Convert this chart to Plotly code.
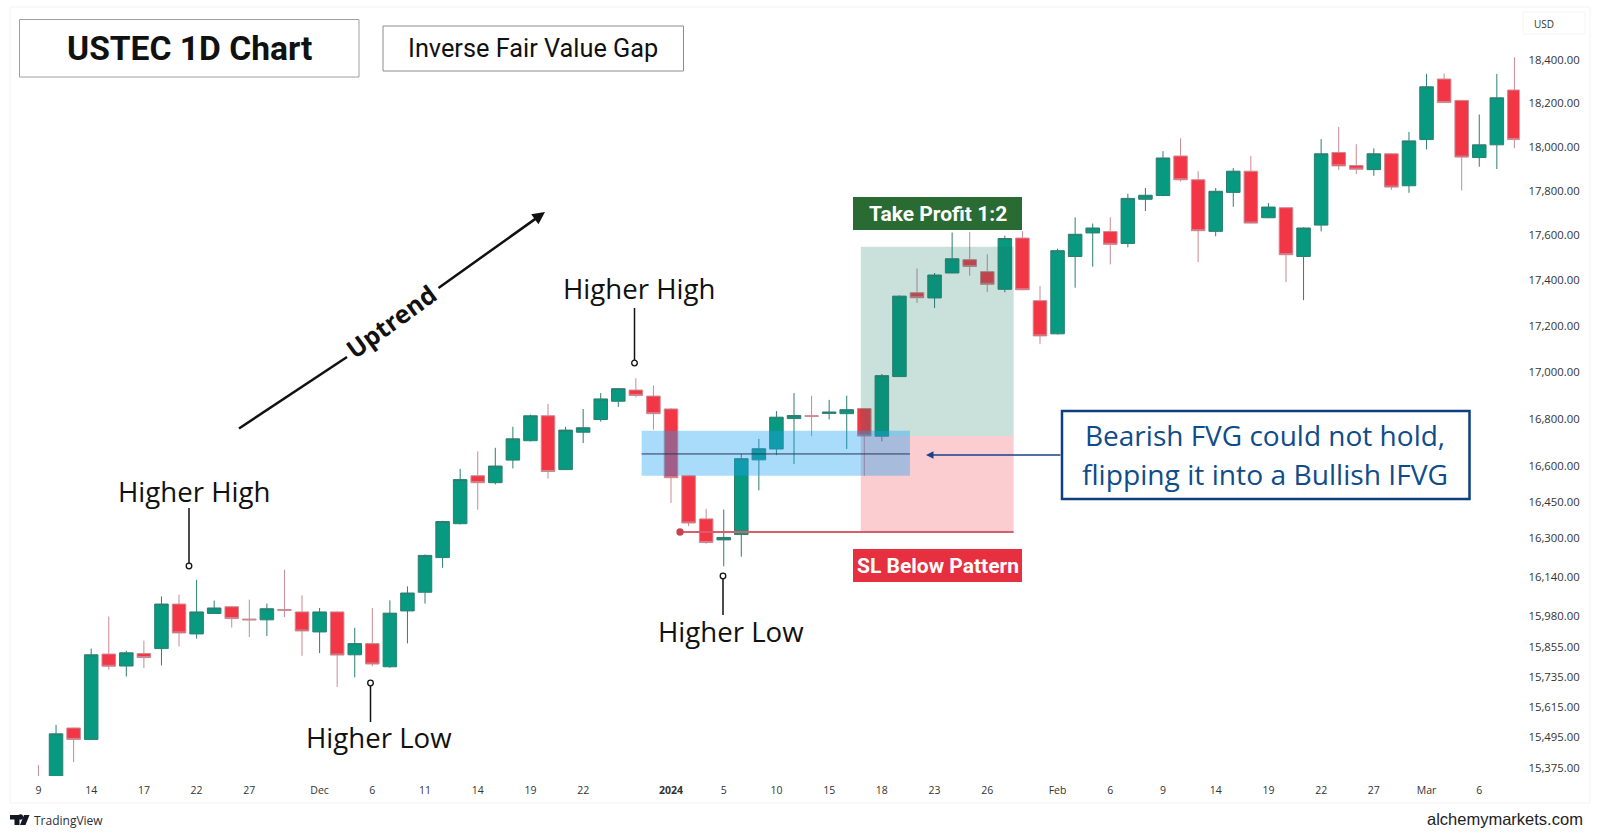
import math
import pandas as pd
import plotly.graph_objects as go

W = 1600
H = 839

# trading days, no session on the 25th of December and the 1st of January
dates = pd.bdate_range("2023-11-09", "2024-03-08")
dates = [d.strftime("%Y-%m-%d") for d in dates if d.strftime("%m-%d") not in ("12-25", "01-01")]

open_prices = [15320, 15290, 15532, 15487, 15826, 15778, 15828, 15848, 16028, 15907,
               15990, 16017, 15967, 15964, 16006, 15996, 15915, 15996, 15823, 15868,
               15775, 16000, 16076, 16218, 16358, 16558, 16529, 16624, 16706, 16812,
               16584, 16742, 16796, 16874, 16922, 16896, 16841, 16558, 16378, 16291,
               16313, 16625, 16671, 16800, 16812, 16822, 16821, 16843, 16725, 16980,
               17345, 17322, 17432, 17491, 17438, 17360, 17587, 17310, 17165, 17505,
               17610, 17616, 17563, 17761, 17778, 17957, 17849, 17617, 17792, 17888,
               17678, 17723, 17505, 17645, 17973, 17914, 17895, 17967, 17822, 18032,
               18311, 18212, 17950, 18008, 18260]
close_prices = [15300, 15509, 15487, 15823, 15777, 15831, 15812, 16028, 15911, 15996,
                16012, 15969, 15964, 16009, 16003, 15919, 15996, 15822, 15868, 15786,
                15991, 16073, 16227, 16367, 16542, 16529, 16599, 16714, 16812, 16576,
                16751, 16761, 16884, 16928, 16899, 16821, 16550, 16361, 16280, 16301,
                16630, 16672, 16806, 16813, 16810, 16828, 16838, 16726, 16984, 17330,
                17323, 17423, 17495, 17461, 17382, 17585, 17358, 17156, 17531, 17604,
                17632, 17559, 17765, 17779, 17948, 17849, 17620, 17797, 17888, 17654,
                17726, 17513, 17632, 17967, 17912, 17897, 17967, 17816, 18026, 18275,
                18202, 17952, 18008, 18224, 18032]
high_prices = [15387, 15544, 15534, 15848, 15977, 15839, 15880, 16059, 16066, 16127,
               16042, 16020, 16046, 16030, 16168, 16063, 16012, 15998, 15932, 16012,
               16043, 16100, 16231, 16370, 16587, 16661, 16676, 16765, 16817, 16863,
               16765, 16841, 16909, 16931, 16973, 16942, 16845, 16560, 16420, 16417,
               16650, 16714, 16832, 16909, 16898, 16880, 16898, 16845, 16991, 17333,
               17452, 17432, 17612, 17615, 17515, 17598, 17618, 17375, 17540, 17680,
               17652, 17680, 17786, 17812, 17979, 18038, 17888, 17812, 17902, 17958,
               17744, 17725, 17635, 18034, 18090, 18011, 17992, 17969, 18067, 18335,
               18337, 18214, 18147, 18335, 18412]
low_prices = [15290, 15280, 15398, 15485, 15763, 15736, 15770, 15780, 15856, 15888,
              15988, 15933, 15894, 15899, 15975, 15819, 15830, 15695, 15733, 15777,
              15771, 15869, 16030, 16176, 16355, 16416, 16522, 16589, 16703, 16546,
              16583, 16696, 16787, 16850, 16891, 16753, 16445, 16348, 16275, 16182,
              16222, 16497, 16645, 16608, 16725, 16796, 16671, 16558, 16703, 16978,
              17300, 17278, 17431, 17420, 17348, 17347, 17356, 17120, 17162, 17367,
              17460, 17470, 17546, 17708, 17775, 17841, 17480, 17595, 17727, 17652,
              17676, 17392, 17312, 17617, 17893, 17875, 17867, 17804, 17790, 17987,
              18200, 17801, 17908, 17898, 17992]

price_ticks = [18400, 18200, 18000, 17800, 17600, 17400, 17200, 17000, 16800, 16600,
               16450, 16300, 16140, 15980, 15855, 15735, 15615, 15495, 15375]
date_ticks = ["2023-11-09", "2023-11-14", "2023-11-17", "2023-11-22", "2023-11-27", "2023-12-01",
              "2023-12-06", "2023-12-11", "2023-12-14", "2023-12-19", "2023-12-22", "2024-01-02",
              "2024-01-05", "2024-01-10", "2024-01-15", "2024-01-18", "2024-01-23", "2024-01-26",
              "2024-02-01", "2024-02-06", "2024-02-09", "2024-02-14", "2024-02-19", "2024-02-22",
              "2024-02-27", "2024-03-01", "2024-03-06"]
date_labels = ["9", "14", "17", "22", "27", "Dec", "6", "11", "14", "19", "22", "<b>2024</b>",
               "5", "10", "15", "18", "23", "26", "Feb", "6", "9", "14", "19", "22", "27", "Mar", "6"]

# trade zones, prices
fvg_top = 16748
fvg_bottom = 16558
fvg_mid = 16650
tp_price = 17548
entry_price = 16726
sl_price = 16324


def px(x):
    return x / W


def py(y):
    return 1 - y / H


def box(x0, y0, x1, y1, fill="rgba(0,0,0,0)", line="rgba(0,0,0,0)", width=1):
    return dict(type="rect", xref="paper", yref="paper", x0=px(x0), x1=px(x1), y0=py(y0), y1=py(y1),
                fillcolor=fill, line=dict(color=line, width=width), layer="above")


def seg(x0, y0, x1, y1, color="#111111", width=1.5):
    return dict(type="line", xref="paper", yref="paper", x0=px(x0), x1=px(x1), y0=py(y0), y1=py(y1),
                line=dict(color=color, width=width), layer="above")


def dot(x, y, r=2.8, fill="#ffffff", line="#111111"):
    return dict(type="circle", xref="paper", yref="paper", x0=px(x - r), x1=px(x + r), y0=py(y - r), y1=py(y + r),
                fillcolor=fill, line=dict(color=line, width=1.3), layer="above")


def poly(points, color):
    path = "M " + " L ".join(f"{px(x)},{py(y)}" for x, y in points) + " Z"
    return dict(type="path", xref="paper", yref="paper", path=path, fillcolor=color, line=dict(width=0), layer="above")


def label(x, y, text, size, color="#111111", family="Open Sans", angle=0, anchor="center"):
    return dict(xref="paper", yref="paper", x=px(x), y=py(y), text=text, showarrow=False, xanchor=anchor,
                yanchor="middle", textangle=angle, font=dict(size=size, color=color, family=family))


def arrow(x0, y0, x1, y1, color, width, size=1.0):
    return dict(xref="paper", yref="paper", x=px(x1), y=py(y1), axref="pixel", ayref="pixel",
                ax=x0 - x1, ay=y0 - y1, text="", showarrow=True, arrowhead=2, arrowsize=size,
                arrowwidth=width, arrowcolor=color)


fig = go.Figure()
fig.add_trace(go.Candlestick(
    x=dates, open=open_prices, high=high_prices, low=low_prices, close=close_prices,
    increasing=dict(fillcolor="#089981", line=dict(color="#2b7f70", width=1)),
    decreasing=dict(fillcolor="#f23645", line=dict(color="#c98a92", width=1)),
    showlegend=False,
))

shapes = [
    box(10, 7, 1590, 803, line="#f3f3f3"),
    box(1523, 12, 1585, 34, line="#f4f4f4"),
    # zones sit on the price axis, the index on the x axis is the candle number
    dict(type="rect", xref="x", yref="y", x0=46.8, x1=55.5, y0=entry_price, y1=tp_price,
         fillcolor="rgba(20,120,100,0.23)", line=dict(width=0), layer="above"),
    dict(type="rect", xref="x", yref="y", x0=46.8, x1=55.5, y0=sl_price, y1=entry_price,
         fillcolor="rgba(242,54,69,0.25)", line=dict(width=0), layer="above"),
    dict(type="rect", xref="x", yref="y", x0=34.33, x1=49.6, y0=fvg_bottom, y1=fvg_top,
         fillcolor="rgba(30,160,243,0.38)", line=dict(width=0), layer="above"),
    dict(type="line", xref="x", yref="y", x0=34.33, x1=49.6, y0=fvg_mid, y1=fvg_mid,
         line=dict(color="#2a3a55", width=1), layer="above"),
    dict(type="line", xref="x", yref="y", x0=36.5, x1=55.5, y0=sl_price, y1=sl_price,
         line=dict(color="#d65f69", width=2), layer="above"),
    dot(680, 532, r=3, fill="#c8434f", line="#c8434f"),
    # title boxes
    box(19.5, 19.5, 359, 77, fill="#ffffff", line="#a0a0a0"),
    box(383, 26, 683.5, 71, fill="#ffffff", line="#8c8c8c"),
    # trade labels
    box(853, 197, 1022, 230, fill="#2a6a33"),
    box(853, 549, 1022, 582, fill="#e6303f"),
    box(1062, 411, 1469.5, 499, fill="#ffffff", line="#0d3f80", width=2.5),
    # pointers
    seg(189, 508, 189, 563),
    dot(189, 566),
    seg(370.5, 686, 370.5, 722),
    dot(370.5, 683),
    seg(634.5, 308, 634.5, 360),
    dot(634.5, 363),
    seg(723, 579, 723, 615),
    dot(723, 576),
    seg(239, 428.5, 347, 357, width=2.5),
    # TradingView logo
    poly([(10, 815), (19.5, 815), (19.5, 825), (14.5, 825), (14.5, 819.5), (10, 819.5)], "#131722"),
    poly([(24, 815), (29.5, 815), (25.5, 825), (20, 825)], "#131722"),
    dot(20.5, 817, r=2, fill="#131722", line="#131722"),
]

annotations = [
    label(189.5, 48.5, "<b>USTEC 1D Chart</b>", 33.6, family="Roboto"),
    label(533, 48.5, "Inverse Fair Value Gap", 25.3, family="Roboto"),
    label(194, 491, "Higher High", 27.6),
    label(378.5, 737, "Higher Low", 27.6),
    label(639, 288, "Higher High", 27.6),
    label(731, 631, "Higher Low", 27.6),
    label(391, 321, "<b>Uptrend</b>", 25, angle=-36),
    arrow(437, 289, 545, 212, "#111111", 2.5),
    label(937.5, 214, "<b>Take Profit 1:2</b>", 21, color="#ffffff", family="Roboto"),
    label(937.5, 566, "<b>SL Below Pattern</b>", 21, color="#ffffff", family="Roboto"),
    label(1265, 435, "Bearish FVG could not hold,", 28, color="#0f4c8a"),
    label(1265, 474.5, "flipping it into a Bullish IFVG", 28.2, color="#0f4c8a"),
    arrow(1062, 455, 926, 455, "#1d3f8c", 1.5),
    label(1532, 24, "USD", 10, color="#333333", anchor="left"),
    label(32, 820.5, "TradingView", 12, color="#2a2e39", anchor="left"),
    label(1585, 819, "alchemymarkets.com", 16.5, color="#222222", family="Liberation Sans", anchor="right"),
]

fig.update_layout(
    width=W,
    height=H,
    margin=dict(l=0, r=0, t=0, b=0),
    paper_bgcolor="#ffffff",
    plot_bgcolor="#ffffff",
    boxgap=0.23,
    boxgroupgap=0,
    shapes=shapes,
    annotations=annotations,
    xaxis=dict(
        type="category",
        domain=[10 / W, 1519.5 / W],
        range=[-1.62, 84.29],
        rangeslider=dict(visible=False),
        tickmode="array",
        tickvals=date_ticks,
        ticktext=date_labels,
        tickangle=0,
        ticks="",
        showgrid=False,
        zeroline=False,
        showline=False,
        tickfont=dict(family="Open Sans", size=10.5, color="#333333"),
        ticklabelstandoff=6,
    ),
    yaxis=dict(
        type="log",
        side="right",
        anchor="x",
        domain=[1 - 776 / H, 1 - 12 / H],
        range=[math.log10(15344), math.log10(18625)],
        tickmode="array",
        tickvals=price_ticks,
        ticktext=[f"{p:,.2f}" for p in price_ticks],
        ticks="",
        showgrid=False,
        zeroline=False,
        showline=False,
        tickfont=dict(family="Open Sans", size=11.3, color="#333333"),
        ticklabelstandoff=8,
    ),
)

fig.write_html("out.html", config=dict(displayModeBar=False), post_script="document.body.style.margin='0';")
